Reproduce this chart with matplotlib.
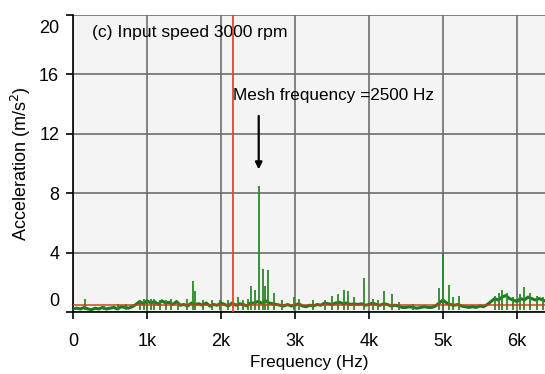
import numpy as np
import matplotlib
matplotlib.use("Agg")
from matplotlib import pyplot as plt
from matplotlib.transforms import ScaledTranslation

plt.rcParams['font.family'] = ['Liberation Sans', 'DejaVu Sans']

# noise floor of the spectrum, sampled every 50 Hz from 0 to 6400 Hz
freq_floor = np.arange(0, 6401, 50)
amp_floor = [0.2, 0.25, 0.2, 0.3, 0.2, 0.15, 0.25, 0.2, 0.3, 0.2, 0.25, 0.3, 0.2, 0.35, 0.3, 0.25, 0.35,
             0.5, 0.7, 0.55, 0.75, 0.6, 0.7, 0.5, 0.75, 0.6, 0.65, 0.5, 0.7, 0.45, 0.5,
             0.4, 0.6, 0.5, 0.55, 0.45, 0.6, 0.4, 0.5, 0.45, 0.6,
             0.5, 0.4, 0.6, 0.45, 0.55, 0.5, 0.4, 0.6,
             0.6, 0.7, 0.6, 0.75, 0.6, 0.55, 0.5, 0.45,
             0.4, 0.5, 0.4, 0.45, 0.55, 0.4, 0.35, 0.45, 0.4, 0.5,
             0.45, 0.6, 0.55, 0.5, 0.6, 0.65, 0.55, 0.6, 0.5, 0.55,
             0.5, 0.55, 0.45, 0.5, 0.6, 0.5, 0.45, 0.55, 0.5, 0.4, 0.45, 0.4,
             0.3, 0.3, 0.35, 0.3, 0.25, 0.3, 0.35, 0.3, 0.3, 0.4,
             0.6, 0.8, 0.6, 0.5, 0.45, 0.5, 0.4, 0.35,
             0.3, 0.35, 0.3, 0.4, 0.35, 0.5,
             0.7, 0.9, 0.8, 1.0, 1.1, 0.9, 0.8, 0.7, 0.9, 0.8, 1.0, 0.9, 0.8, 0.9, 0.8, 0.7]

# discrete spikes (Hz, m/s^2)
peak_freq = [160, 420, 610, 720, 900, 960, 1000, 1060, 1100, 1180, 1250, 1320, 1420, 1540, 1620, 1650,
             1760, 1880, 1980, 2100, 2230, 2300, 2360, 2410, 2460, 2510, 2570, 2600,
             2640, 2720, 2820, 2990, 3050, 3250, 3400, 3500, 3580, 3660, 3720, 3800, 3930,
             4050, 4120, 4200, 4310, 4400, 4600, 4950, 5000, 5080, 5140, 5220, 5700, 5760,
             5800, 5860, 5950, 6040, 6100, 6180, 6270, 6350]
peak_amp = [0.9, 0.4, 0.5, 0.5, 0.8, 0.9, 0.8, 0.85, 0.85, 0.8, 0.8, 0.9, 0.7, 0.9, 2.1, 1.4,
            0.8, 0.8, 0.8, 0.8, 1.0, 0.8, 0.9, 1.75, 1.5, 8.45, 2.9, 1.75,
            2.85, 1.3, 0.8, 1.0, 0.9, 0.8, 0.8, 1.1, 1.2, 1.5, 1.4, 1.0, 2.3,
            0.9, 0.8, 1.4, 1.2, 0.7, 0.5, 1.6, 4.0, 1.8, 1.0, 1.1, 1.1, 1.3,
            1.5, 1.3, 1.0, 1.2, 1.7, 1.3, 1.1, 1.0]

shaft_line = 2160
mean_level = 0.45
mesh_freq = 2510
yticks = [0, 4, 8, 12, 16, 20]
xticks = [0, 1000, 2000, 3000, 4000, 5000, 6000]
xticklabels = ["0", "1k", "2k", "3k", "4k", "5k", "6k"]

fig = plt.figure(figsize=(5.45, 3.74), dpi=100)
ax = fig.add_axes([0.134, 0.166, 0.866, 0.794])
ax.set_facecolor("#f4f4f4")

ax.plot(freq_floor, amp_floor, color="#1f7a1f", lw=2.2, zorder=3)
ax.vlines(peak_freq, 0.1, peak_amp, color="#2a8a2a", lw=1.3, zorder=3)
ax.axhline(mean_level, color="#c83c1c", lw=1.4, alpha=0.75, zorder=4)
ax.axvline(shaft_line, color="#e04535", lw=1.3, zorder=4)

ax.set_xlim(0, 6380)
ax.set_ylim(0, 20)
ax.set_yticks(yticks)
ax.set_xticks(xticks)
ax.set_xticklabels(xticklabels)
ax.tick_params(labelsize=13, length=5, width=1.2, direction="out", pad=10)
ax.tick_params(axis="y", pad=5)
ax.grid(True, color="#6e6e6e", lw=1.2)
ax.set_axisbelow(True)
for s in ["top", "right"]:
    ax.spines[s].set_visible(False)
ax.spines["left"].set_linewidth(1.2)
ax.spines["bottom"].set_linewidth(1.2)

# push the end labels inward like the original
labels = ax.get_yticklabels()
labels[0].set_transform(labels[0].get_transform() + ScaledTranslation(0, 12 / 100, fig.dpi_scale_trans))
labels[-1].set_transform(labels[-1].get_transform() + ScaledTranslation(0, -12 / 100, fig.dpi_scale_trans))

ax.set_xlabel("Frequency (Hz)", fontsize=12.3, labelpad=4)
ax.set_ylabel("Acceleration (m/s$^2$)", fontsize=13, labelpad=4)

ax.text(0.04, 0.94, "(c) Input speed 3000 rpm", transform=ax.transAxes, fontsize=12.6, va="center")
ax.text(2160, 14.6, "Mesh frequency =2500 Hz", fontsize=12.3, va="center", ha="left")
ax.annotate("", xy=(mesh_freq, 9.6), xytext=(mesh_freq, 13.2),
            arrowprops=dict(arrowstyle="-|>", color="black", lw=1.6, shrinkA=0, shrinkB=0))

fig.savefig("out.png", dpi=100)
